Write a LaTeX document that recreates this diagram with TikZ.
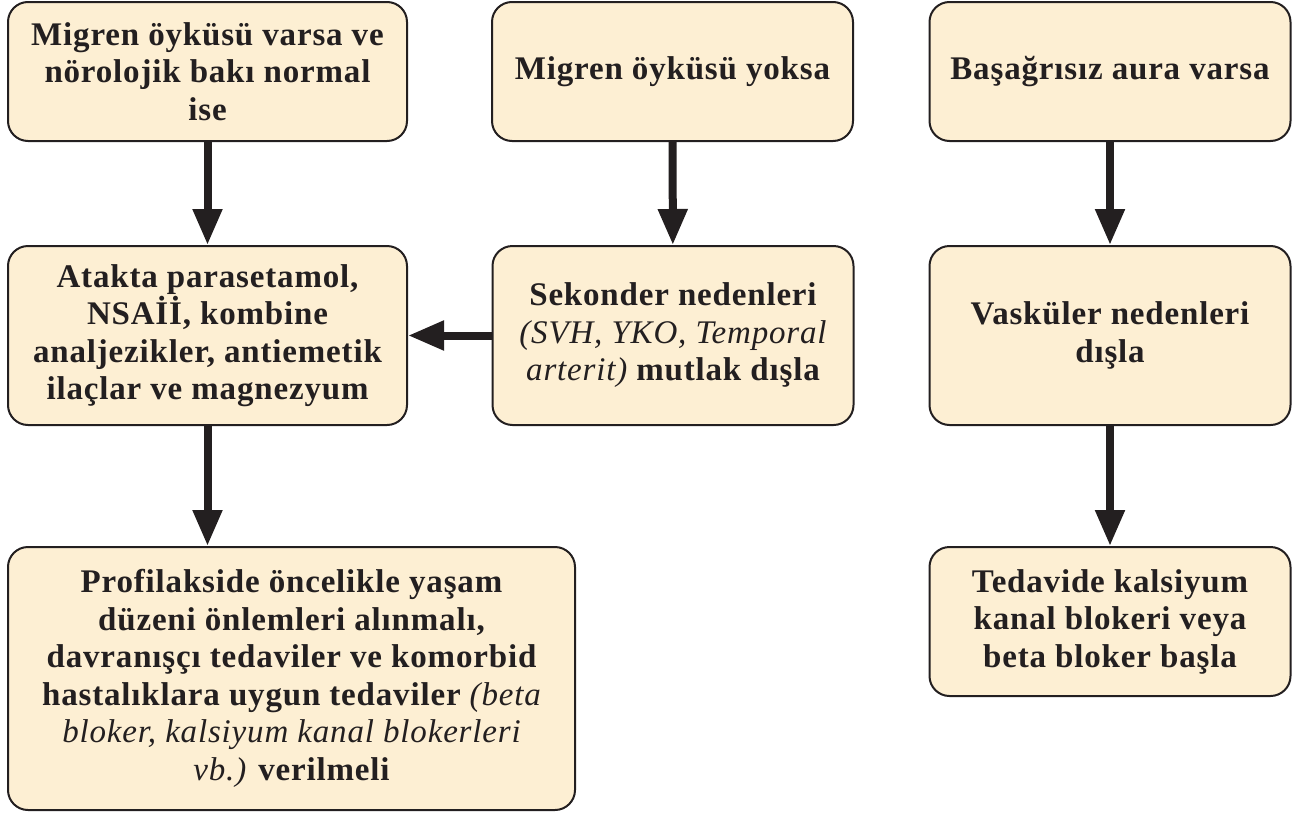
\documentclass[tikz,border=0pt]{standalone}
\usepackage{fontspec}
\setmainfont{Liberation Serif}[LetterSpace=2.5]
\usetikzlibrary{arrows.meta}
\definecolor{boxfill}{HTML}{FDEFD3}
\definecolor{ink}{HTML}{231F20}
\tikzset{
  flowbox/.style={draw=ink, line width=2pt, fill=boxfill, rounded corners=20pt,
    align=center, inner sep=0pt, text=ink,
    font=\fontsize{33}{37.5}\selectfont\bfseries},
  flowarrow/.style={draw=ink, line width=8pt, -{Triangle[length=36pt,width=28pt]}}
}
\newcommand{\remark}[1]{{\mdseries\itshape #1}}
\begin{document}
\begin{tikzpicture}[x=1pt,y=-1pt]
\useasboundingbox (0,0) rectangle (1298,814);

% top row
\node[flowbox, minimum width=399pt, minimum height=139pt] (hist) at (207.5,71.5)
  {Migren öyküsü varsa ve\\nörolojik bakı normal\\ise};
\node[flowbox, minimum width=361pt, minimum height=139pt] (nohist) at (672.5,71.5)
  {Migren öyküsü yoksa};
\node[flowbox, minimum width=361pt, minimum height=139pt] (aura) at (1110,71.5)
  {Başağrısız aura varsa};

% middle row
\node[flowbox, minimum width=399pt, minimum height=179pt] (attack) at (207.5,335.5)
  {Atakta parasetamol,\\NSAİİ, kombine\\analjezikler, antiemetik\\ilaçlar ve magnezyum};
\node[flowbox, minimum width=361pt, minimum height=179pt] (secondary) at (673,335.5)
  {Sekonder nedenleri\\\remark{(SVH, YKO, Temporal}\\\remark{arterit)} mutlak dışla};
\node[flowbox, minimum width=361pt, minimum height=179pt] (vascular) at (1110,335.5)
  {Vasküler nedenleri\\dışla};

% bottom row
\node[flowbox, minimum width=567pt, minimum height=263pt] (prophylaxis) at (291.5,678.5)
  {Profilakside öncelikle yaşam\\düzeni önlemleri alınmalı,\\davranışçı tedaviler ve komorbid\\hastalıklara uygun tedaviler \remark{(beta}\\\remark{bloker, kalsiyum kanal blokerleri}\\\remark{vb.)} verilmeli};
\node[flowbox, minimum width=361pt, minimum height=149pt] (treatment) at (1110,621.5)
  {Tedavide kalsiyum\\kanal blokeri veya\\beta bloker başla};

% connectors
\draw[flowarrow] (hist) -- (attack);
\draw[flowarrow] (nohist) -- (secondary);
\draw[flowarrow] (aura) -- (vascular);
\draw[flowarrow] (secondary) -- (attack);
\draw[flowarrow] (attack.south) -- (attack.south |- prophylaxis.north);
\draw[flowarrow] (vascular) -- (treatment);
\end{tikzpicture}
\end{document}
